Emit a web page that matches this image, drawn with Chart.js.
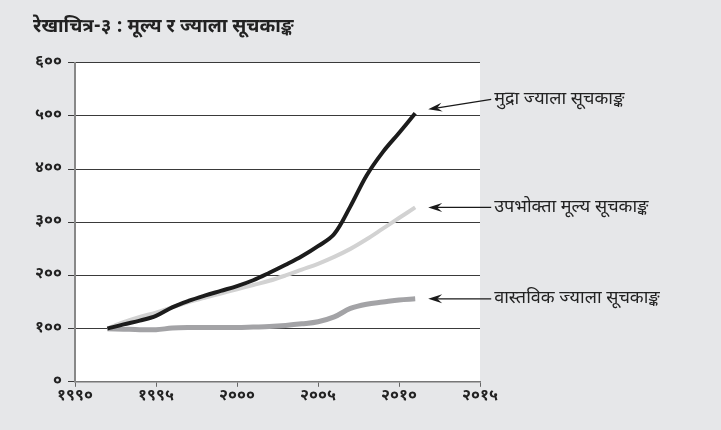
<!DOCTYPE html>
<html>
<head>
<meta charset="utf-8">
<script src="https://cdn.jsdelivr.net/npm/chart.js@4.4.1/dist/chart.umd.min.js"></script>
<style>
  html, body { margin: 0; padding: 0; background: #e6e7e9; }
  #wrap { width: 721px; height: 430px; }
</style>
</head>
<body>
<div id="wrap"><canvas id="chart"></canvas></div>
<script>
const years = [1992, 1993, 1994, 1995, 1996, 1997, 1998, 1999, 2000, 2001,
               2002, 2003, 2004, 2005, 2006, 2007, 2008, 2009, 2010, 2011];
// मुद्रा ज्याला सूचकाङ्क
const nominalWage = [100, 108, 115, 124, 140, 152, 162, 171, 180, 191,
                     205, 220, 236, 255, 278, 330, 388, 432, 468, 505];
// उपभोक्ता मूल्य सूचकाङ्क
const consumerPrice = [100, 112, 122, 130, 140, 150, 158, 166, 174, 182,
                       190, 200, 211, 222, 235, 250, 268, 288, 308, 328];
// वास्तविक ज्याला सूचकाङ्क
const realWage = [100, 99, 98, 98, 101, 102, 102, 102, 102, 103,
                  104, 106, 109, 113, 122, 138, 146, 150, 154, 156];
const seriesNames = ["मुद्रा ज्याला सूचकाङ्क", "उपभोक्ता मूल्य सूचकाङ्क", "वास्तविक ज्याला सूचकाङ्क"];
const yTicks = [0, 100, 200, 300, 400, 500, 600];
const xTicks = [1990, 1995, 2000, 2005, 2010, 2015];

const devaFont = "'Noto Sans Devanagari', 'Noto Sans', 'DejaVu Sans', sans-serif";
const digits = "०१२३४५६७८९";
function toNepali(n) {
    return String(n).replace(/\d/g, d => digits[d]);
}
function points(vals) {
    return years.map((y, i) => ({ x: y, y: vals[i] }));
}

// gray page behind, white plot area
const backdrop = {
    id: "backdrop",
    beforeDraw(chart) {
        const ctx = chart.ctx, a = chart.chartArea;
        ctx.save();
        ctx.fillStyle = "#e6e7e9";
        ctx.fillRect(0, 0, chart.width, chart.height);
        ctx.fillStyle = "#ffffff";
        ctx.fillRect(a.left, a.top, a.right - a.left, a.bottom - a.top);
        ctx.restore();
    }
};

// arrow + label next to the last point of every line
const arrowLabels = {
    id: "arrowLabels",
    afterDatasetsDraw(chart, args, opts) {
        const ctx = chart.ctx;
        ctx.save();
        chart.data.datasets.forEach((ds, i) => {
            const meta = chart.getDatasetMeta(i);
            const pt = meta.data[meta.data.length - 1];
            const tipX = pt.x + 13, tipY = pt.y + opts.tipDy[i];
            const tailX = tipX + 63, tailY = pt.y + opts.tailDy[i];
            const ang = Math.atan2(tipY - tailY, tipX - tailX);
            ctx.strokeStyle = "#1a1a1a";
            ctx.fillStyle = "#1a1a1a";
            ctx.lineWidth = 1.2;
            ctx.beginPath();
            ctx.moveTo(tailX, tailY);
            ctx.lineTo(tipX - 8 * Math.cos(ang), tipY - 8 * Math.sin(ang));
            ctx.stroke();
            ctx.beginPath();
            ctx.moveTo(tipX, tipY);
            ctx.lineTo(tipX - 14 * Math.cos(ang) + 4.5 * Math.sin(ang), tipY - 14 * Math.sin(ang) - 4.5 * Math.cos(ang));
            ctx.lineTo(tipX - 9 * Math.cos(ang), tipY - 9 * Math.sin(ang));
            ctx.lineTo(tipX - 14 * Math.cos(ang) - 4.5 * Math.sin(ang), tipY - 14 * Math.sin(ang) + 4.5 * Math.cos(ang));
            ctx.closePath();
            ctx.fill();
            ctx.font = "18px " + devaFont;
            ctx.textBaseline = "middle";
            ctx.textAlign = "left";
            ctx.fillStyle = "#222";
            ctx.fillText(ds.label, tailX + 3, tailY + 1);
        });
        ctx.restore();
    }
};

const ctx = document.getElementById("chart").getContext("2d");
const myChart = new Chart(ctx, {
    type: "line",
    data: {
        datasets: [
            { label: seriesNames[0], data: points(nominalWage), borderColor: "#1c1c1c", borderWidth: 4 },
            { label: seriesNames[1], data: points(consumerPrice), borderColor: "#d2d2d2", borderWidth: 4 },
            { label: seriesNames[2], data: points(realWage), borderColor: "#a3a3a6", borderWidth: 5 }
        ]
    },
    options: {
        responsive: true,
        maintainAspectRatio: false,
        animation: false,
        devicePixelRatio: 1,
        layout: { padding: { left: 33, right: 241, top: 0, bottom: 22 } },
        elements: {
            point: { radius: 0 },
            line: { tension: 0.35, borderCapStyle: "butt", fill: false }
        },
        plugins: {
            legend: { display: false },
            tooltip: { enabled: false },
            title: {
                display: true,
                text: "रेखाचित्र-३ : मूल्य र ज्याला सूचकाङ्क",
                align: "start",
                color: "#222",
                font: { family: devaFont, size: 19, weight: "bold" },
                padding: { top: 17, bottom: 23 }
            },
            arrowLabels: { tipDy: [-4, 0, 0], tailDy: [-14, 0, 0] }
        },
        scales: {
            x: {
                type: "linear",
                min: 1990,
                max: 2015,
                afterBuildTicks: (s) => { s.ticks = xTicks.map(v => ({ value: v })); },
                ticks: {
                    color: "#222",
                    font: { family: devaFont, size: 16, weight: "bold" },
                    padding: 1,
                    maxRotation: 0,
                    callback: (v) => toNepali(v)
                },
                grid: { drawOnChartArea: false, color: "#666", tickLength: 5, lineWidth: 1 },
                border: { color: "#777", width: 1.5 }
            },
            y: {
                min: 0,
                max: 600,
                afterBuildTicks: (s) => { s.ticks = yTicks.map(v => ({ value: v })); },
                afterFit: (s) => { s.width = 42; },
                ticks: {
                    color: "#222",
                    font: { family: devaFont, size: 16, weight: "bold" },
                    padding: 6,
                    callback: (v) => toNepali(v)
                },
                grid: { color: "#3a3a3a", lineWidth: 1, tickLength: 7 },
                border: { color: "#888", width: 2 }
            }
        }
    },
    plugins: [backdrop, arrowLabels]
});
</script>
</body>
</html>
